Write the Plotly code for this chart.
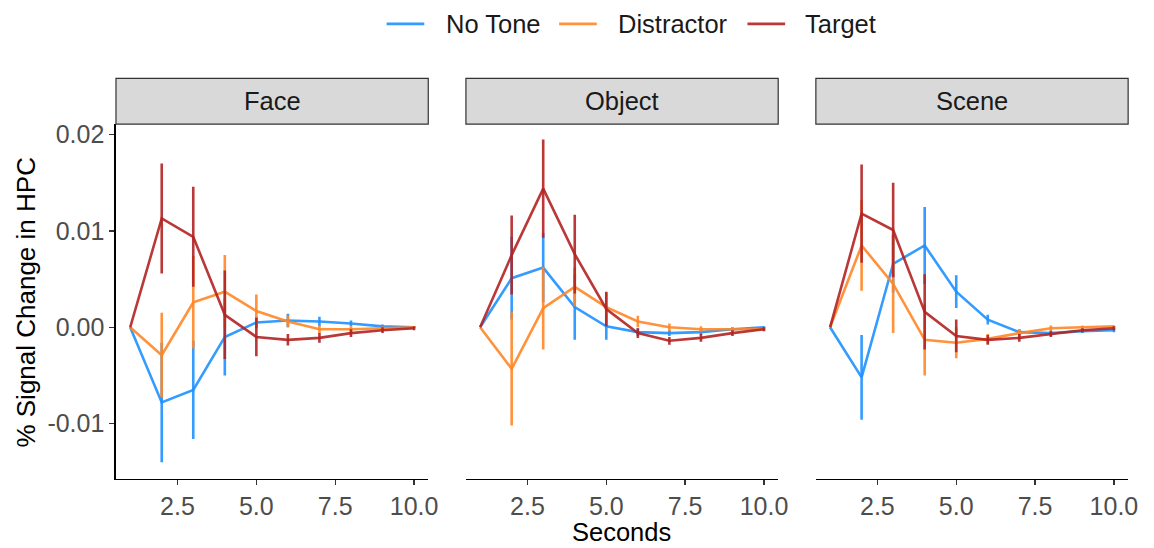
import plotly.graph_objects as go

seconds = [1, 2, 3, 4, 5, 6, 7, 8, 9, 10]
panels = ["Face", "Object", "Scene"]
conditions = ["No Tone", "Distractor", "Target"]

# Face
notone_face = [0, -0.0078, -0.0065, -0.0010, 0.0005, 0.0007, 0.0006, 0.0004, 0.0001, 0.0000]
notone_face_se = [0, 0.0062, 0.0051, 0.0040, 0.0006, 0.0007, 0.0005, 0.0003, 0.0002, 0.0001]
distr_face = [0, -0.0029, 0.0026, 0.0037, 0.0017, 0.0006, -0.0002, -0.0002, -0.0001, 0.0000]
distr_face_se = [0, 0.0044, 0.0048, 0.0038, 0.0017, 0.0006, 0.0004, 0.0003, 0.0002, 0.0001]
target_face = [0, 0.0113, 0.0094, 0.0013, -0.0010, -0.0013, -0.0011, -0.0006, -0.0003, -0.0001]
target_face_se = [0, 0.0057, 0.0052, 0.0046, 0.0020, 0.0006, 0.0005, 0.0004, 0.0003, 0.0002]

# Object
notone_obj = [0, 0.0051, 0.0062, 0.0021, 0.0001, -0.0005, -0.0006, -0.0005, -0.0002, 0.0000]
notone_obj_se = [0, 0.0043, 0.0036, 0.0034, 0.0014, 0.0004, 0.0003, 0.0003, 0.0002, 0.0001]
distr_obj = [0, -0.0043, 0.0020, 0.0042, 0.0021, 0.0006, 0.0000, -0.0002, -0.0002, -0.0002]
distr_obj_se = [0, 0.0059, 0.0043, 0.0020, 0.0015, 0.0006, 0.0004, 0.0003, 0.0002, 0.0001]
target_obj = [0, 0.0075, 0.0144, 0.0076, 0.0019, -0.0006, -0.0014, -0.0011, -0.0006, -0.0002]
target_obj_se = [0, 0.0041, 0.0051, 0.0041, 0.0018, 0.0005, 0.0004, 0.0004, 0.0003, 0.0002]

# Scene
notone_sc = [0, -0.0052, 0.0066, 0.0085, 0.0037, 0.0008, -0.0005, -0.0006, -0.0004, -0.0003]
notone_sc_se = [0, 0.0044, 0.0030, 0.0040, 0.0017, 0.0005, 0.0003, 0.0003, 0.0002, 0.0002]
distr_sc = [0, 0.0085, 0.0045, -0.0013, -0.0016, -0.0012, -0.0006, -0.0001, 0.0000, 0.0001]
distr_sc_se = [0, 0.0047, 0.0051, 0.0037, 0.0016, 0.0005, 0.0004, 0.0003, 0.0002, 0.0001]
target_sc = [0, 0.0118, 0.0101, 0.0016, -0.0009, -0.0013, -0.0011, -0.0007, -0.0003, -0.0001]
target_sc_se = [0, 0.0051, 0.0049, 0.0039, 0.0017, 0.0005, 0.0004, 0.0003, 0.0002, 0.0002]

data = {
    "Face": [(notone_face, notone_face_se), (distr_face, distr_face_se), (target_face, target_face_se)],
    "Object": [(notone_obj, notone_obj_se), (distr_obj, distr_obj_se), (target_obj, target_obj_se)],
    "Scene": [(notone_sc, notone_sc_se), (distr_sc, distr_sc_se), (target_sc, target_sc_se)],
}

colors = ["rgba(30,144,255,0.9)", "rgba(255,134,38,0.9)", "rgba(178,34,34,0.9)"]

x_ticks = [2.5, 5.0, 7.5, 10.0]
x_ticktext = ["2.5", "5.0", "7.5", "10.0"]
y_ticks = [-0.01, 0.0, 0.01, 0.02]
y_ticktext = ["-0.01", "0.00", "0.01", "0.02"]

W, H = 1154, 548


def px(x):
    return x / W


def py(y):
    return 1 - y / H


panel_px = [(117, 432), (470, 785), (823, 1138)]
top_px, bot_px, strip_top_px = 121, 478, 75

fig = go.Figure()
for pi, p in enumerate(panels):
    xa = "x" if pi == 0 else f"x{pi+1}"
    ya = "y" if pi == 0 else f"y{pi+1}"
    for ci, c in enumerate(conditions):
        vals, se = data[p][ci]
        fig.add_trace(go.Scatter(
            x=seconds, y=vals, mode="lines", name=c,
            line=dict(color=colors[ci], width=2.6),
            error_y=dict(type="data", array=se, visible=True, width=0,
                         thickness=2.6, color=colors[ci]),
            xaxis=xa, yaxis=ya, showlegend=False, legendgroup=c,
        ))

layout = dict(
    width=W, height=H,
    paper_bgcolor="white", plot_bgcolor="white",
    margin=dict(l=0, r=0, t=0, b=0),
    font=dict(family="Liberation Sans, Arial, sans-serif", size=25, color="#000000"),
    showlegend=False,
)
shapes = []
annotations = []
yr = [-0.0157, 0.0211]
for pi, p in enumerate(panels):
    x0, x1 = panel_px[pi]
    sfx = "" if pi == 0 else str(pi + 1)
    layout["xaxis" + sfx] = dict(
        domain=[px(x0), px(x1)], range=[0.55, 10.45], anchor="y" + sfx,
        tickvals=x_ticks, ticktext=x_ticktext, showline=True, linecolor="black", linewidth=1.6,
        ticks="outside", ticklen=5, tickwidth=1.4, tickcolor="#333333",
        tickfont=dict(size=25, color="#4d4d4d"), showgrid=False, zeroline=False,
    )
    layout["yaxis" + sfx] = dict(
        domain=[py(bot_px), py(top_px)], range=yr, anchor="x" + sfx,
        showgrid=False, zeroline=False,
        showline=(pi == 0), linecolor="black", linewidth=1.6,
        tickvals=y_ticks if pi == 0 else [], ticktext=y_ticktext if pi == 0 else [],
        ticks="outside" if pi == 0 else "", ticklen=5, tickwidth=1.4, tickcolor="#333333",
        showticklabels=(pi == 0), tickfont=dict(size=25, color="#4d4d4d"),
    )
    shapes.append(dict(type="rect", xref="paper", yref="paper",
                       x0=px(x0), x1=px(x1), y0=py(top_px), y1=py(strip_top_px),
                       fillcolor="#d9d9d9", line=dict(color="#333333", width=1.2)))
    annotations.append(dict(text=p, xref="paper", yref="paper",
                            x=px((x0 + x1) / 2), y=py((top_px + strip_top_px) / 2),
                            showarrow=False, xanchor="center", yanchor="middle",
                            font=dict(size=25.5, color="#1a1a1a")))

# legend drawn as line samples + text labels
legend_line_x = [(390, 428), (564, 602), (754, 792)]
legend_text_x = [448, 621, 810]
legend_y = 20
for ci, c in enumerate(conditions):
    lx0, lx1 = legend_line_x[ci]
    shapes.append(dict(type="line", xref="paper", yref="paper",
                       x0=px(lx0), x1=px(lx1), y0=py(legend_y), y1=py(legend_y),
                       line=dict(color=colors[ci], width=2.8)))
    annotations.append(dict(text=c, xref="paper", yref="paper",
                            x=px(legend_text_x[ci]), y=py(legend_y), showarrow=False,
                            xanchor="left", yanchor="middle",
                            font=dict(size=25.5, color="#1a1a1a")))

annotations.append(dict(text="Seconds", xref="paper", yref="paper",
                        x=px(627), y=py(532), showarrow=False,
                        xanchor="center", yanchor="middle", font=dict(size=25.5, color="#000000")))
annotations.append(dict(text="% Signal Change in HPC", xref="paper", yref="paper",
                        x=px(26), y=py(300), showarrow=False, textangle=-90,
                        xanchor="center", yanchor="middle", font=dict(size=26, color="#000000")))
layout["shapes"] = shapes
layout["annotations"] = annotations
fig.update_layout(**layout)
fig.write_html(
    "out.html",
    config={"displayModeBar": False, "staticPlot": True},
    post_script="document.body.style.margin='0px';document.body.style.overflow='hidden';",
)
